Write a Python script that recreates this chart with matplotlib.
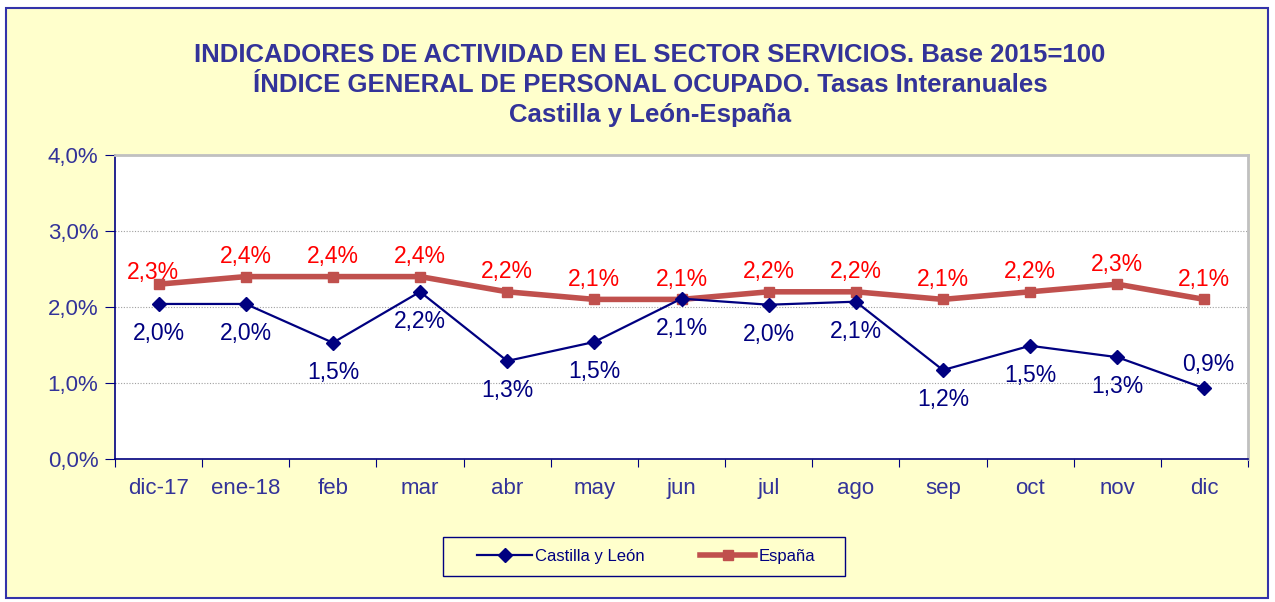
import matplotlib
matplotlib.use("Agg")
import matplotlib.pyplot as plt
from matplotlib.patches import Rectangle
from matplotlib.ticker import FuncFormatter, FixedLocator, NullFormatter

categories = ["dic-17", "ene-18", "feb", "mar", "abr", "may", "jun", "jul", "ago", "sep", "oct", "nov", "dic"]
castilla = [2.04, 2.04, 1.53, 2.20, 1.29, 1.54, 2.11, 2.03, 2.07, 1.17, 1.49, 1.34, 0.93]
espana = [2.3, 2.4, 2.4, 2.4, 2.2, 2.1, 2.1, 2.2, 2.2, 2.1, 2.2, 2.3, 2.1]
yticks = [0, 1, 2, 3, 4]

plt.rcParams['font.family'] = ['Liberation Sans', 'DejaVu Sans']

W, H = 1275, 602
fig = plt.figure(figsize=(W/100, H/100), dpi=100)
fig.patch.set_facecolor('white')
fig.add_artist(Rectangle((6/W, 1 - 598/H), 1268/W - 6/W, (598 - 8)/H, transform=fig.transFigure,
                         facecolor='#FFFFCC', edgecolor='#3333AA', linewidth=1.5, zorder=0))

ax = fig.add_axes([115/W, 1 - 459/H, (1248-115)/W, (459-155)/H])
ax.set_facecolor('white')
x = list(range(len(categories)))
ax.set_xlim(-0.5, len(categories) - 0.5)
ax.set_ylim(0, 4)

ax.plot(x, espana, color='#C0504D', linewidth=4, marker='s', markersize=7, label='España', zorder=3)
ax.plot(x, castilla, color='#000080', linewidth=1.6, marker='D', markersize=7, label='Castilla y León', zorder=4)

def fmt(v):
    return f"{v:.1f}".replace('.', ',') + '%'

for i, v in enumerate(espana):
    ax.annotate(fmt(v), (i, v), xytext=(-4, 0) if i == 0 else (0, 6), textcoords='offset points',
                ha='center', va='bottom', color='#FF0000', fontsize=16.5)
for i, v in enumerate(castilla):
    if i == len(castilla) - 1:
        ax.annotate(fmt(v), (i, v), xytext=(3, 9), textcoords='offset points',
                    ha='center', va='bottom', color='#000080', fontsize=16.5)
    else:
        ax.annotate(fmt(v), (i, v), xytext=(0, -13), textcoords='offset points',
                    ha='center', va='top', color='#000080', fontsize=16.5)

ax.set_yticks(yticks)
ax.yaxis.set_major_formatter(FuncFormatter(lambda v, p: fmt(v)))
ax.grid(axis='y', color='#A0A0A0', linestyle=(0, (1, 1.5)), linewidth=0.8)
ax.set_axisbelow(True)

ax.xaxis.set_major_locator(FixedLocator([i - 0.5 for i in range(len(categories) + 1)]))
ax.xaxis.set_major_formatter(NullFormatter())
ax.xaxis.set_minor_locator(FixedLocator(x))
ax.set_xticklabels(categories, minor=True)
ax.tick_params(axis='x', which='minor', length=0, pad=14, labelsize=16, labelcolor='#333399')
ax.tick_params(axis='x', which='major', length=6, color='#000080', direction='out')
ax.tick_params(axis='y', length=7, color='#000080', direction='out', labelsize=16, labelcolor='#333399', pad=5)

for s in ['left', 'bottom']:
    ax.spines[s].set_color('#000080')
    ax.spines[s].set_linewidth(1.2)
for s in ['top', 'right']:
    ax.spines[s].set_color('#C0C0C0')
    ax.spines[s].set_linewidth(2)

title = ("INDICADORES DE ACTIVIDAD EN EL SECTOR SERVICIOS. Base 2015=100\n"
         "ÍNDICE GENERAL DE PERSONAL OCUPADO. Tasas Interanuales\n"
         "Castilla y León-España")
fig.text(650/W, 1 - 85/H, title, ha='center', va='center', fontsize=18.5, fontweight='bold',
         color='#333399', linespacing=1.3)

# legend frame
fig.add_artist(Rectangle((443/W, 1 - 576/H), 402/W, 39/H, transform=fig.transFigure,
                         facecolor='#FFFFCC', edgecolor='#000080', linewidth=1, zorder=1))
handles, labels = ax.get_legend_handles_labels()
leg = fig.legend(handles[::-1], labels[::-1], loc='center', bbox_to_anchor=(646/W, 1 - 556/H),
                 ncol=2, fontsize=12, frameon=False, borderpad=0.7,
                 columnspacing=3.3, handlelength=3.3, handletextpad=0.2)
leg.set_zorder(2)
for t in leg.get_texts():
    t.set_color('#000080')

fig.savefig('out.png', dpi=100)
